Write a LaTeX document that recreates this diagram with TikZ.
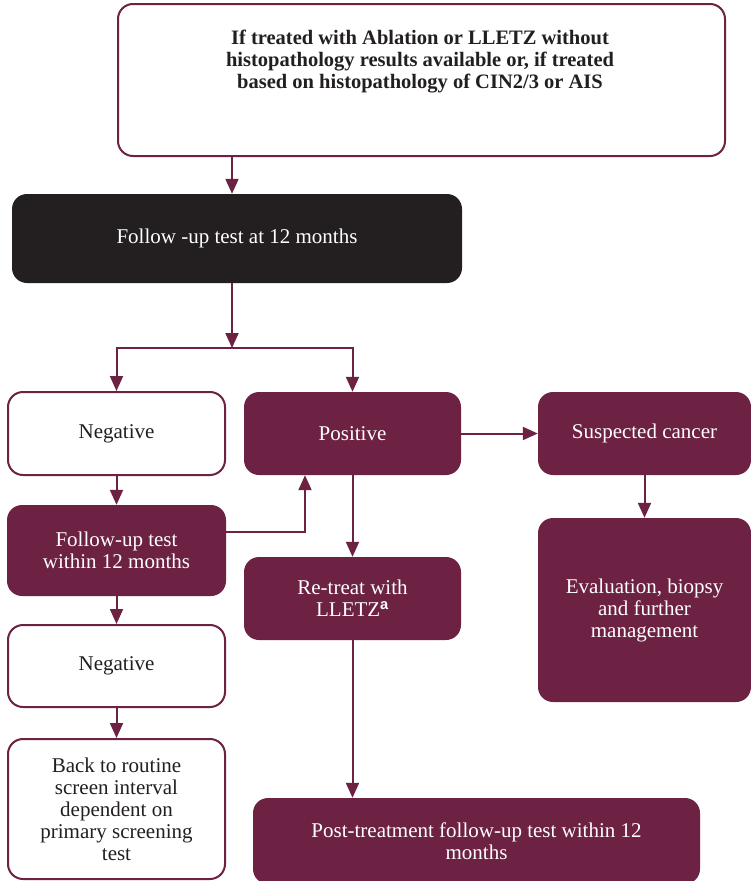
\documentclass[tikz,border=0pt]{standalone}
\usepackage{fontspec}
\setmainfont{Liberation Serif}
\setsansfont{Liberation Sans}
\usetikzlibrary{arrows.meta}
\definecolor{maroon}{HTML}{6D2243}
\definecolor{inkdark}{HTML}{231F20}
\tikzset{
  base/.style={rounded corners=15pt, inner sep=0pt, align=center,
    font=\fontsize{21}{22}\selectfont},
  wbox/.style={base, draw=maroon, line width=2pt, fill=white, text=inkdark},
  mbox/.style={base, fill=maroon, text=white},
  kbox/.style={base, fill=inkdark, text=white},
  arr/.style={draw=maroon, line width=2pt,
    -{Triangle[length=15pt,width=13pt]}},
}
\begin{document}
\begin{tikzpicture}[x=1pt,y=-1pt]
\useasboundingbox (0,0) rectangle (750,881);

% boxes
\node[wbox, minimum width=607pt, minimum height=152pt] (top) at (421.5,80) {};
\node[inner sep=0pt, align=center, text=inkdark,
  font=\fontsize{20.5}{22}\selectfont\bfseries] (toptext) at (420,62)
  {If treated with Ablation or LLETZ without\\
   histopathology results available or, if treated\\
   based on histopathology of CIN2/3 or AIS};

\node[kbox, minimum width=450pt, minimum height=89pt] (blk) at (237,238.5)
  {Follow -up test at 12 months};

\node[wbox, minimum width=217pt, minimum height=83pt] (neg1) at (116.5,433.5) {Negative};
\node[mbox, minimum width=217pt, minimum height=83pt] (pos) at (352.5,433.5) {Positive};
\node[mbox, minimum width=213pt, minimum height=83pt] (susp) at (644.5,433.5) {Suspected cancer};
\node[mbox, minimum width=213pt, minimum height=184pt] (eval) at (644.5,610)
  {Evaluation, biopsy\\and further\\management};

\node[mbox, minimum width=219pt, minimum height=91pt] (fu) at (116.5,550.5)
  {Follow-up test\\within 12 months};
\node[mbox, minimum width=217pt, minimum height=83pt] (re) at (352.5,598.5)
  {Re-treat with\\LLETZ\textsuperscript{\sffamily\bfseries a}};

\node[wbox, minimum width=217pt, minimum height=82pt] (neg2) at (116.5,666) {Negative};
\node[wbox, minimum width=217pt, minimum height=140pt] (back) at (116.5,809)
  {Back to routine\\screen interval\\dependent on\\primary screening\\test};

\node[mbox, minimum width=447pt, minimum height=86pt] (post) at (476.5,841)
  {Post-treatment follow-up test within 12\\months};

% connectors
\coordinate (c1) at (232,0);
\coordinate (split) at (232,348);
\coordinate (c2) at (305,532);

\draw[arr] (top.south -| c1) -- (blk.north -| c1);
\draw[arr] (blk.south -| split) -- (split);
\draw[arr] (split) -| (neg1.north);
\draw[arr] (split) -| (pos.north);
\draw[arr] (pos.east) -- (susp.west);
\draw[arr] (susp.south) -- (eval.north);
\draw[arr] (neg1.south) -- (fu.north);
\draw[arr] (fu.east |- c2) -| (pos.south -| c2);
\draw[arr] (pos.south) -- (re.north);
\draw[arr] (fu.south) -- (neg2.north);
\draw[arr] (neg2.south) -- (back.north);
\draw[arr] (re.south) -- (post.north -| re.south);
\end{tikzpicture}
\end{document}
